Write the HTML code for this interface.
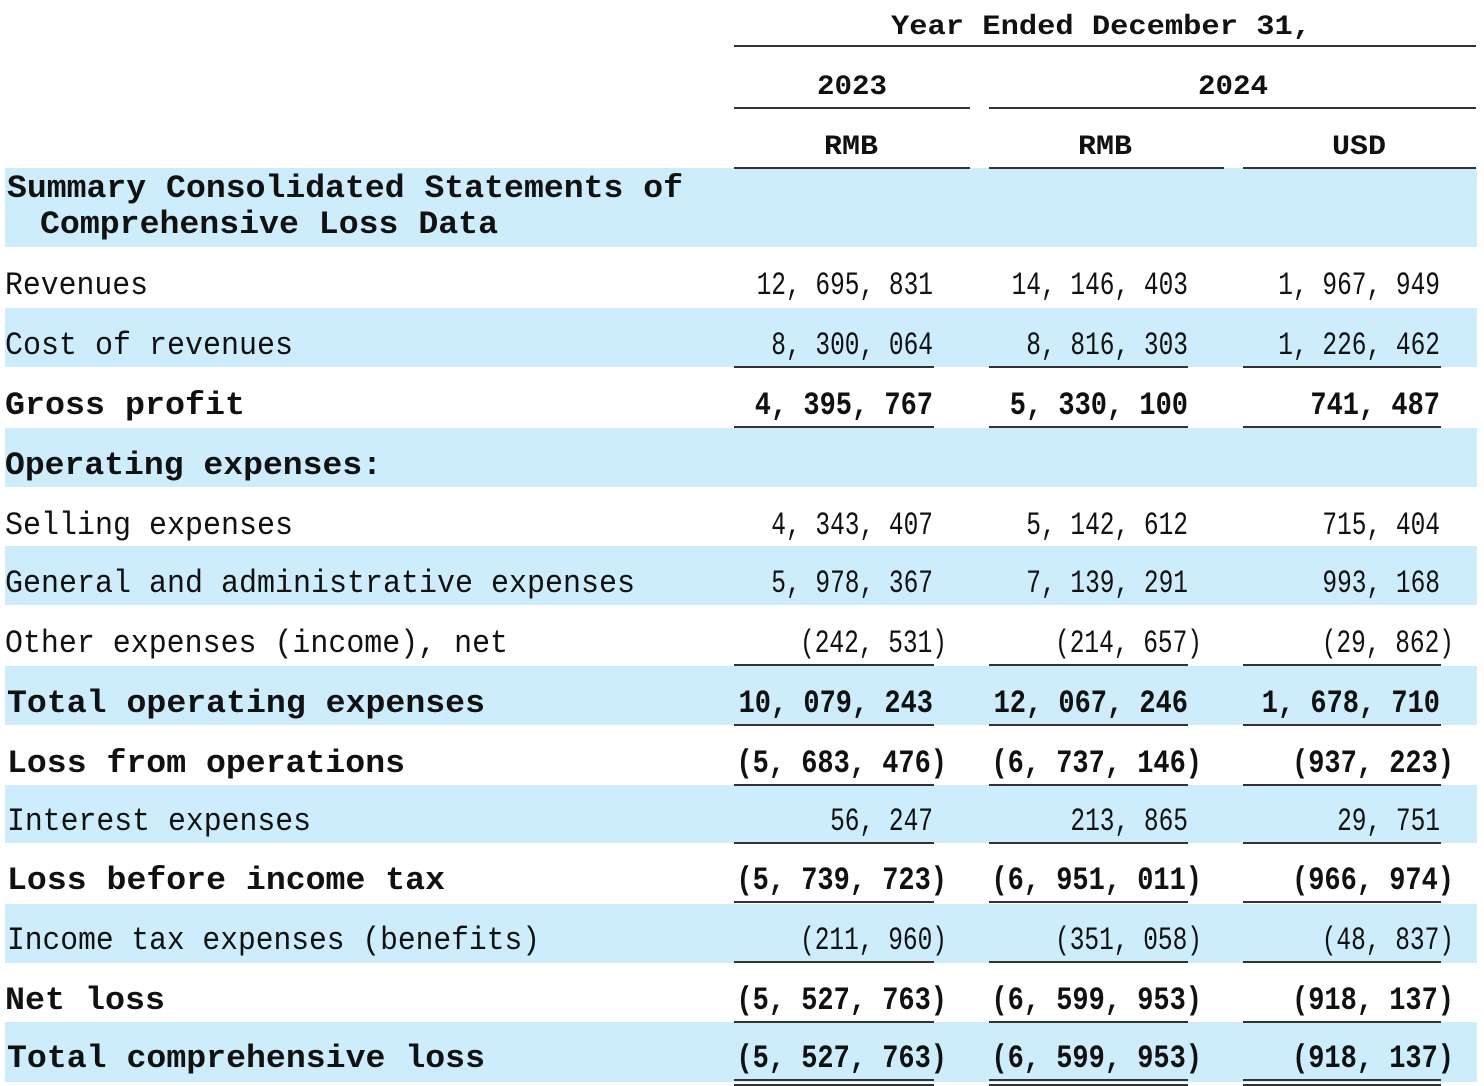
<!DOCTYPE html>
<html><head><meta charset="utf-8"><style>
html,body{margin:0;padding:0;background:#fff;}
svg{display:block;}
text{font-family:"Liberation Mono","Noto Sans CJK SC",monospace;fill:#111;font-size:32px;}
.b{font-weight:bold;}
</style></head><body>
<svg width="1484" height="1086" viewBox="0 0 1484 1086" xmlns="http://www.w3.org/2000/svg">
<g fill="#cdedfd">
<rect x="5" y="168" width="1472" height="79"/>
<rect x="5" y="308" width="1472" height="59"/>
<rect x="5" y="428" width="1472" height="59"/>
<rect x="5" y="546" width="1472" height="59"/>
<rect x="5" y="666" width="1472" height="59"/>
<rect x="5" y="785" width="1472" height="58"/>
<rect x="5" y="904" width="1472" height="59"/>
<rect x="5" y="1022" width="1472" height="60"/>
</g>
<g fill="#333">
<rect x="734" y="45" width="742" height="2"/>
<rect x="734" y="107" width="236" height="2"/>
<rect x="989" y="107" width="487" height="2"/>
<rect x="734" y="167" width="236" height="2"/>
<rect x="989" y="167" width="235" height="2"/>
<rect x="1243" y="167" width="233" height="2"/>
</g>
<text class="b" x="891" y="34" textLength="420" lengthAdjust="spacingAndGlyphs" style="font-size:28px">Year Ended December  31,</text>
<text class="b" x="852" y="94" text-anchor="middle" textLength="70" lengthAdjust="spacingAndGlyphs" style="font-size:28px">2023</text>
<text class="b" x="1233" y="94" text-anchor="middle" textLength="70" lengthAdjust="spacingAndGlyphs" style="font-size:28px">2024</text>
<text class="b" x="851" y="154" text-anchor="middle" textLength="54" lengthAdjust="spacingAndGlyphs" style="font-size:28px">RMB</text>
<text class="b" x="1105" y="154" text-anchor="middle" textLength="54" lengthAdjust="spacingAndGlyphs" style="font-size:28px">RMB</text>
<text class="b" x="1359" y="154" text-anchor="middle" textLength="54" lengthAdjust="spacingAndGlyphs" style="font-size:28px">USD</text>
<text class="b" x="7" y="197" textLength="676" lengthAdjust="spacingAndGlyphs">Summary Consolidated Statements of</text>
<text class="b" x="40" y="233" textLength="458" lengthAdjust="spacingAndGlyphs">Comprehensive Loss Data</text>
<g id="rows"></g>
</svg>
<script>
const rows=[
[248,0,"Revenues",143,["12, 695, 831","14, 146, 403","1, 967, 949"],0],
[308,0,"Cost of revenues",288,["8, 300, 064","8, 816, 303","1, 226, 462"],1],
[368,1,"Gross profit",240,["4, 395, 767","5, 330, 100","741, 487"],1],
[428,1,"Operating expenses:",377,null,0],
[488,0,"Selling expenses",288,["4, 343, 407","5, 142, 612","715, 404"],0],
[546,0,"General and administrative expenses",630,["5, 978, 367","7, 139, 291","993, 168"],0],
[606,0,"Other expenses (income), net",503,["(242, 531)","(214, 657)","(29, 862)"],1],
[666,1,"Total operating expenses",478,["10, 079, 243","12, 067, 246","1, 678, 710"],1],
[726,1,"Loss from operations",398,["(5, 683, 476)","(6, 737, 146)","(937, 223)"],1],
[784,0,"Interest expenses",304,["56, 247","213, 865","29, 751"],1],
[843,1,"Loss before income tax",438,["(5, 739, 723)","(6, 951, 011)","(966, 974)"],1],
[903,0,"Income tax expenses (benefits)",533,["(211, 960)","(351, 058)","(48, 837)"],1],
[963,1,"Net loss",160,["(5, 527, 763)","(6, 599, 953)","(918, 137)"],1],
[1021,1,"Total comprehensive loss",478,["(5, 527, 763)","(6, 599, 953)","(918, 137)"],2]
];
const NS="http://www.w3.org/2000/svg",g=document.getElementById("rows");
const ends=[933,1188,1440],lx=[734,989,1243],lw=[200,199,198];
function t(x,y,s,bold,len,anchor){const e=document.createElementNS(NS,"text");e.setAttribute("x",x);e.setAttribute("y",y);if(bold)e.setAttribute("class","b");e.setAttribute("textLength",len);e.setAttribute("lengthAdjust","spacingAndGlyphs");if(anchor)e.setAttribute("text-anchor",anchor);e.textContent=s;g.appendChild(e);}
function r(x,y,w){const e=document.createElementNS(NS,"rect");e.setAttribute("x",x);e.setAttribute("y",y);e.setAttribute("width",w);e.setAttribute("height",2);e.setAttribute("fill","#333");g.appendChild(e);}
for(const [top,b,lab,lw2,vals,ul] of rows){
 const base=top+46;
 t(lab.startsWith("Total")||lab.startsWith("Loss")||lab.startsWith("Interest")||lab.startsWith("Income")?7:5,base,lab,b,lw2);
 if(vals){vals.forEach((v,i)=>{const p=v.startsWith("(");const e=ends[i]+(p?14:0);const cw=b?16.2:14.7;t(e,base,v,b,(v.length*cw).toFixed(1),"end");});}
 const by=top+58;
 if(ul>=1){for(let i=0;i<3;i++)r(lx[i],by,lw[i]);}
 if(ul==2){for(let i=0;i<3;i++)r(lx[i],by+5,lw[i]);}
}
</script>
</body></html>
